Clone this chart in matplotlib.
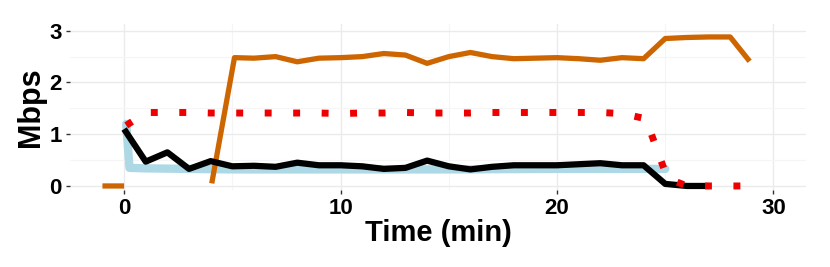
import numpy as np
import matplotlib
matplotlib.use("Agg")
import matplotlib.pyplot as plt
from matplotlib.ticker import MultipleLocator

plt.rcParams['font.family'] = ['Liberation Sans', 'DejaVu Sans']
plt.rcParams['font.weight'] = 'bold'

# series
blue_t = [0.1, 0.25, 1, 5, 10, 15, 20, 25]
blue_v = [1.2, 0.35, 0.34, 0.32, 0.32, 0.32, 0.33, 0.33]

orange_t = [-1, 0, 1, 2, 3, 4.05, 5.1, 6, 7, 8, 9, 10, 11, 12, 13, 14, 15, 16,
            17, 18, 19, 20, 21, 22, 23, 24, 25, 26, 27, 28, 28.9]
orange_v = [0, 0, np.nan, np.nan, np.nan, 0.05, 2.48, 2.47, 2.5, 2.4, 2.47, 2.48,
            2.5, 2.56, 2.53, 2.37, 2.5, 2.58, 2.5, 2.46, 2.47, 2.48, 2.46, 2.43,
            2.48, 2.46, 2.85, 2.87, 2.88, 2.88, 2.41]

black_t = list(range(0, 28))
black_v = [1.1, 0.47, 0.65, 0.33, 0.48, 0.38, 0.39, 0.37, 0.45, 0.4, 0.4, 0.38,
           0.33, 0.35, 0.49, 0.38, 0.32, 0.37, 0.4, 0.4, 0.4, 0.42, 0.44, 0.4,
           0.4, 0.04, 0.0, 0.0]

red_t = [0.1, 1, 2, 3, 4, 5, 6, 7, 8, 9, 10, 11, 12, 13, 14, 15, 16, 17, 18, 19,
         20, 21, 22, 23, 24.1, 25.1, 26, 27, 28, 29]
red_v = [1.17, 1.42, 1.42, 1.42, 1.41, 1.41, 1.41, 1.41, 1.41, 1.41, 1.4, 1.41,
         1.41, 1.42, 1.41, 1.41, 1.41, 1.42, 1.42, 1.42, 1.42, 1.42, 1.42, 1.4,
         1.3, 0.15, 0, 0, 0, 0]

fig = plt.figure(figsize=(8.3, 2.67), dpi=100)
ax = fig.add_axes([0.0843, 0.288, 0.8867, 0.622])

ax.plot(blue_t, blue_v, color='#add8e6', lw=6, solid_capstyle='round', solid_joinstyle='round', zorder=2)
ax.plot(orange_t, orange_v, color='#cd6600', lw=3.8, solid_capstyle='butt', zorder=3)
ax.plot(black_t, black_v, color='black', lw=4.5, solid_capstyle='butt', zorder=4)
ax.plot(red_t, red_v, color='#ee0000', lw=5, linestyle=(0, (1, 3.1)), dash_capstyle='butt', zorder=5)

ax.set_xlim(-2.5, 31.5)
ax.set_ylim(-0.08, 3.13)
ax.xaxis.set_major_locator(MultipleLocator(10))
ax.xaxis.set_minor_locator(MultipleLocator(5))
ax.yaxis.set_major_locator(MultipleLocator(1))
ax.yaxis.set_minor_locator(MultipleLocator(0.5))
ax.grid(which='major', color='#ebebeb', lw=1.0, zorder=0)
ax.grid(which='minor', color='#f5f5f5', lw=0.8, zorder=0)
ax.set_axisbelow(True)
for s in ax.spines.values():
    s.set_visible(False)
ax.tick_params(which='minor', length=0)
ax.tick_params(which='major', length=3, width=1, color='#333333', labelsize=16, pad=3)
for lab in ax.get_xticklabels() + ax.get_yticklabels():
    lab.set_fontweight('bold')

ax.set_xlabel('Time (min)', fontsize=21, fontweight='bold', labelpad=0)
ax.set_ylabel('Mbps', fontsize=22, fontweight='bold', labelpad=2)

fig.savefig('out.png', dpi=100)
